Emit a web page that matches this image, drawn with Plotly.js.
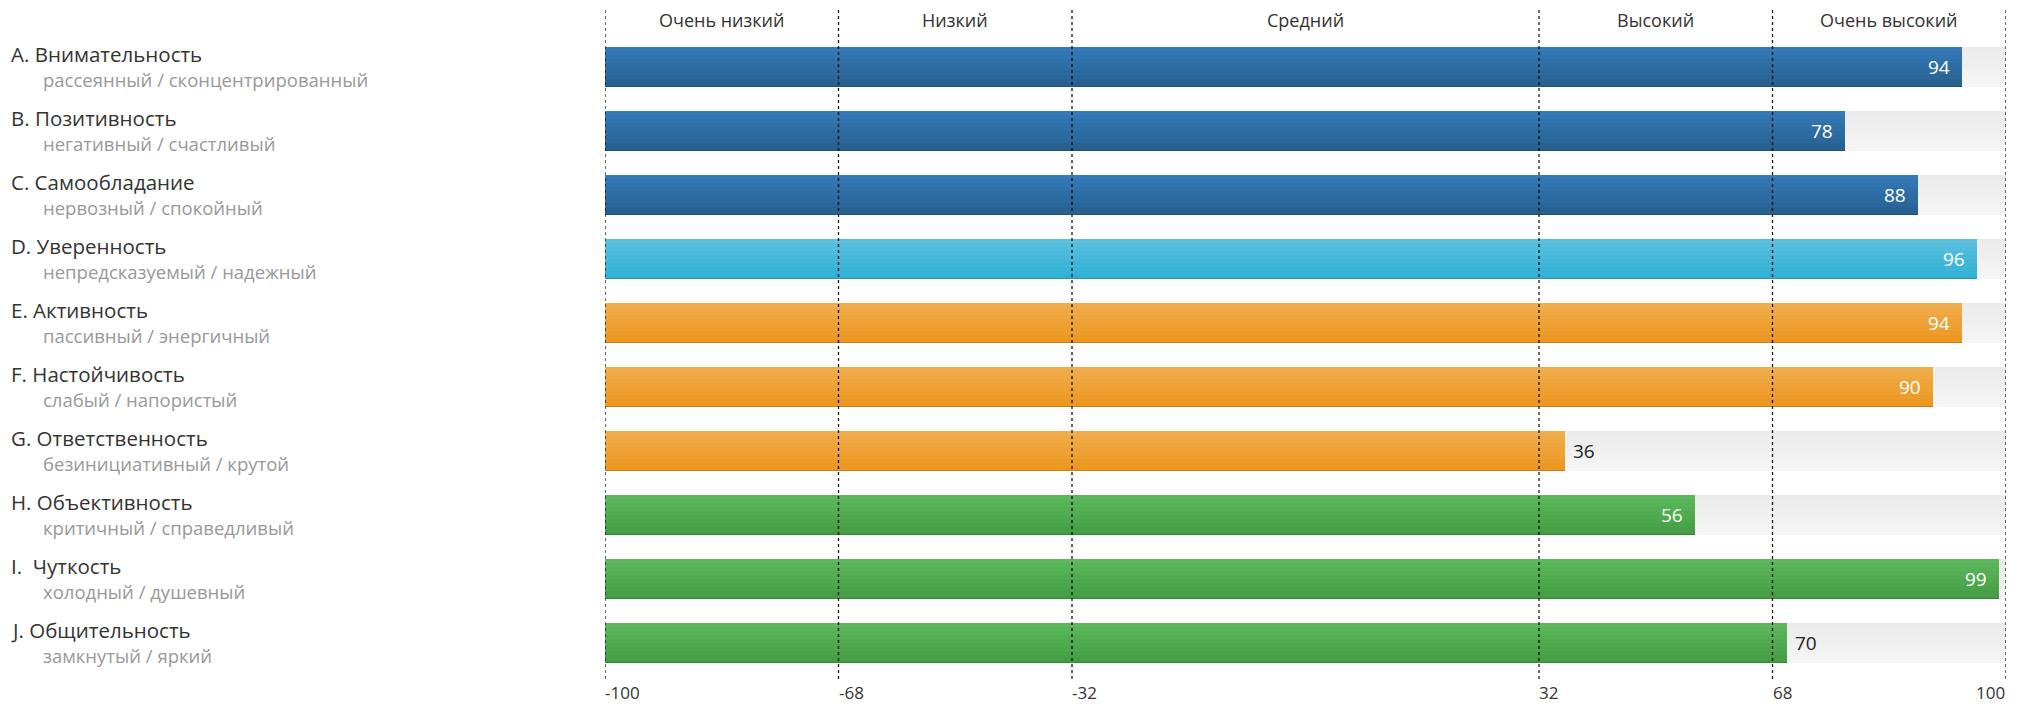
<!DOCTYPE html>
<html>
<head>
<meta charset="utf-8">
<script src="https://cdn.plot.ly/plotly-3.0.1.min.js"></script>
<style>html,body{margin:0;padding:0;background:#fff;}#chart{width:2028px;height:705px;}</style>
</head>
<body>
<div id="chart"></div>
<script>
// ---- data ----
const traitNames = ["A. Внимательность","B. Позитивность","C. Самообладание","D. Уверенность","E. Активность","F. Настойчивость","G. Ответственность","H. Объективность","I.\u00a0 Чуткость","J. Общительность"];
const traitPoles = ["рассеянный / сконцентрированный","негативный / счастливый","нервозный / спокойный","непредсказуемый / надежный","пассивный / энергичный","слабый / напористый","безинициативный / крутой","критичный / справедливый","холодный / душевный","замкнутый / яркий"];
const traitValues = [94, 78, 88, 96, 94, 90, 36, 56, 99, 70];
const traitGroup = ["primary","primary","primary","info","warning","warning","warning","success","success","success"];
const bandEdges = [-100, -68, -32, 32, 68, 100];
const bandNames = ["Очень низкий","Низкий","Средний","Высокий","Очень высокий"];
const bandWeights = [1, 1, 2, 1, 1];
const labelOutside = [false,false,false,false,false,false,true,false,false,true];

// ---- styles ----
const groupColors = {
  primary: ["#337ab7", "#286090"],
  info:    ["#5bc0de", "#31b0d5"],
  warning: ["#f0ad4e", "#ec971f"],
  success: ["#5cb85c", "#449d44"]
};
const trackColors = ["#ebebeb", "#f5f5f5"];

// piecewise band scale
const bandPos = [0];
bandWeights.forEach((w,i)=>bandPos.push(bandPos[i]+w));
function scale(v){
  for(let i=0;i<bandEdges.length-1;i++){
    if(v<=bandEdges[i+1] || i===bandEdges.length-2){
      const t=(v-bandEdges[i])/(bandEdges[i+1]-bandEdges[i]);
      return bandPos[i]+t*(bandPos[i+1]-bandPos[i]);
    }
  }
}
function hex2rgb(h){return [1,3,5].map(i=>parseInt(h.substr(i,2),16));}
function mix(a,b,t,dark){
  const A=hex2rgb(a),B=hex2rgb(b);
  const c=A.map((v,i)=>Math.round((v+(B[i]-v)*t)*(dark||1)));
  return "rgb("+c.join(",")+")";
}

const idx = traitNames.map((_,i)=>i);
const xMax = scale(bandEdges[bandEdges.length-1]);
const barW = 0.625;
const N = 10;
const stripe = barW/N;
const traces = [];

// track (background)
for(let s=0;s<N;s++){
  traces.push({
    type:"bar", orientation:"h", y:idx, x:idx.map(()=>xMax),
    width:stripe+0.004, offset:-barW/2+s*stripe,
    marker:{color:mix(trackColors[0],trackColors[1],s/(N-1)), line:{width:0}},
    hoverinfo:"skip", showlegend:false
  });
}
// value bars as gradient stripes
const xs = traitValues.map(scale);
for(let s=0;s<N;s++){
  traces.push({
    type:"bar", orientation:"h", y:idx, x:xs,
    width:stripe+0.004, offset:-barW/2+s*stripe,
    marker:{color:traitGroup.map(g=>mix(groupColors[g][0],groupColors[g][1],s/(N-1))), line:{width:0}},
    hoverinfo:"skip", showlegend:false
  });
}
// bottom inset shadow line
traces.push({
  type:"bar", orientation:"h", y:idx, x:xs,
  width:0.02, offset:barW/2-0.02,
  marker:{color:traitGroup.map(g=>mix(groupColors[g][1],groupColors[g][1],1,0.85)), line:{width:0}},
  hoverinfo:"skip", showlegend:false
});

const annotations = [];
traitNames.forEach((name,i)=>{
  annotations.push({xref:"paper", yref:"y", x:0, y:i, xanchor:"left", yanchor:"middle", xshift:-596, yshift:13,
    text:name, showarrow:false, font:{family:"Open Sans", size:20.5, color:"#333"}});
  annotations.push({xref:"paper", yref:"y", x:0, y:i, xanchor:"left", yanchor:"middle", xshift:-564, yshift:-12,
    text:traitPoles[i], showarrow:false, font:{family:"Open Sans", size:18.5, color:"#999"}});
  const out = labelOutside[i];
  annotations.push({xref:"x", yref:"y", x:xs[i], y:i, xanchor:out?"left":"right", yanchor:"middle",
    xshift:out?6:-10, text:String(traitValues[i]), showarrow:false,
    font:{family:"Open Sans", size:19, color:out?"#222":"#fff"}});
});
bandNames.forEach((b,i)=>{
  annotations.push({xref:"x", yref:"paper", x:(bandPos[i]+bandPos[i+1])/2, y:1, yanchor:"middle", xanchor:"center",
    yshift:15, text:b, showarrow:false, font:{family:"Open Sans", size:18, color:"#333"}});
});
bandEdges.forEach((e,i)=>{
  const last = i===bandEdges.length-1;
  annotations.push({xref:"x", yref:"paper", x:bandPos[i], y:0, yanchor:"middle", xanchor:last?"right":"left",
    xshift:last?1:-2, yshift:-17, text:String(e), showarrow:false, font:{family:"Open Sans", size:17, color:"#333"}});
});

const shapes = bandEdges.map((e,i)=>({
  type:"line", xref:"x", yref:"paper", x0:bandPos[i], x1:bandPos[i], y0:-4/640, y1:1+28/640,
  line:{color:"rgba(0,0,0,0.9)", width:1.3, dash:"dot"}, layer:"above"
}));

const layout = {
  width:2028, height:705,
  margin:{l:605, r:22, t:35, b:30},
  paper_bgcolor:"#fff", plot_bgcolor:"#fff",
  barmode:"overlay", bargap:0,
  showlegend:false,
  xaxis:{range:[0,xMax], showgrid:false, zeroline:false, showticklabels:false, ticks:"", fixedrange:true},
  yaxis:{range:[traitNames.length-0.5,-0.5], showgrid:false, zeroline:false, showticklabels:false, ticks:"", fixedrange:true},
  annotations:annotations,
  shapes:shapes,
  font:{family:"Open Sans"}
};
Plotly.newPlot("chart", traces, layout, {displayModeBar:false, staticPlot:true});
</script>
</body>
</html>
